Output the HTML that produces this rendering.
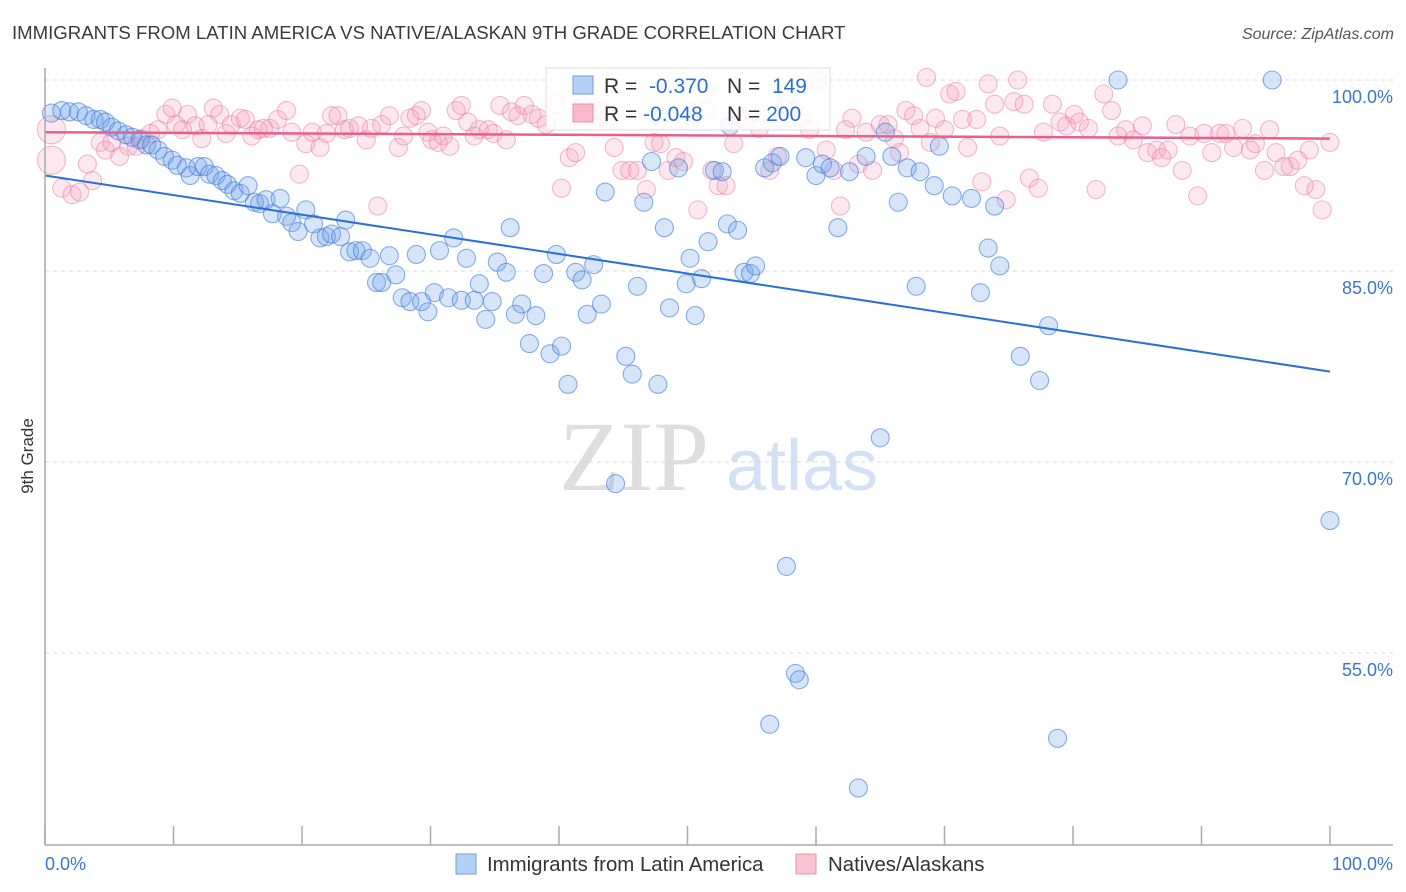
<!DOCTYPE html>
<html><head><meta charset="utf-8">
<style>
body{margin:0;background:#fff;font-family:"Liberation Sans",sans-serif;}
#wrap{position:relative;width:1406px;height:892px;overflow:hidden;}
svg text{font-family:"Liberation Sans",sans-serif;}
svg text.serif{font-family:"Liberation Serif",serif;}
</style></head>
<body>
<div id="wrap">
<svg id="chart" width="1406" height="892" viewBox="0 0 1406 892">
  <text x="12" y="39" font-size="18.6" fill="#3a3a3a">IMMIGRANTS FROM LATIN AMERICA VS NATIVE/ALASKAN 9TH GRADE CORRELATION CHART</text>
  <text x="1394" y="39" font-size="16" fill="#555" font-style="italic" text-anchor="end">Source: ZipAtlas.com</text>
  <text x="33" y="456" font-size="17" fill="#333" transform="rotate(-90 33 456)" text-anchor="middle">9th Grade</text>
  <g>
    <text class="serif" x="634" y="490" font-size="100" fill="#dedede" text-anchor="middle">ZIP</text>
    <text x="802" y="490" font-size="72" fill="#d3e1f5" text-anchor="middle">atlas</text>
  </g>
  <g id="grid"></g>
  <g id="pts"></g>
  <g id="lines"></g>
  <g id="axes"></g>
  <g>
    <rect x="546" y="68" width="284" height="62" fill="#fff" fill-opacity="0.85" stroke="#ddd"/>
    <rect x="573" y="76" width="20" height="18" fill="#b5d0f5" stroke="#6f9be0"/>
    <rect x="573" y="104" width="20" height="18" fill="#f8b9cc" stroke="#e890ac"/>
    <text x="604" y="93" font-size="21" fill="#333">R = <tspan fill="#2a6fd8">&#160;-0.370</tspan></text>
    <text x="727" y="93" font-size="21" fill="#333">N = <tspan fill="#2a6fd8">&#160;149</tspan></text>
    <text x="604" y="121" font-size="21" fill="#333">R = <tspan fill="#2a6fd8">-0.048</tspan></text>
    <text x="727" y="121" font-size="21" fill="#333">N = <tspan fill="#2a6fd8">200</tspan></text>
  </g>
  <g>
    <rect x="456" y="854" width="20" height="20" fill="#b5d0f5" stroke="#6f9be0"/>
    <text x="487" y="871" font-size="20.4" fill="#333">Immigrants from Latin America</text>
    <rect x="796" y="854" width="20" height="20" fill="#f8c3d2" stroke="#e890ac"/>
    <text x="828" y="871" font-size="20.4" fill="#333">Natives/Alaskans</text>
  </g>
</svg>
</div>
<script>
const yTicks=[100,85,70,55];
const yTickLabels=["100.0%","85.0%","70.0%","55.0%"];
const xTicks=[0,10,20,30,40,50,60,70,80,90,100];
const blueX=[0.5,1.3,1.9,2.6,3.2,3.8,4.3,4.7,5.2,5.7,6.3,6.8,7.4,7.9,8.3,8.8,9.3,9.9,10.3,11.0,11.3,11.9,12.4,12.8,13.3,13.8,14.2,14.7,15.2,15.8,16.3,16.7,17.2,17.7,18.3,18.8,19.2,19.7,20.3,20.9,21.4,21.9,22.3,23.0,23.4,23.7,24.2,24.7,25.3,25.8,26.2,26.8,27.3,27.8,28.4,28.9,29.3,29.8,30.3,30.7,31.4,31.8,32.4,32.8,33.4,33.8,34.3,34.8,35.2,35.9,36.2,36.6,37.1,37.7,38.2,38.8,39.3,39.8,40.2,40.7,41.3,41.8,42.2,42.7,43.3,43.6,44.4,45.2,45.7,46.1,46.6,47.2,47.7,48.2,48.6,49.3,49.9,50.2,50.6,51.1,51.6,52.1,52.7,53.1,53.3,53.9,54.4,54.9,55.3,56.0,56.4,56.6,57.2,57.7,58.4,58.7,59.2,60.0,60.5,61.1,61.7,62.6,63.3,63.9,65.0,65.4,65.9,66.4,67.1,67.8,68.1,69.2,69.6,70.6,72.1,72.8,73.4,73.9,74.3,75.9,77.4,78.1,78.8,83.5,95.5,100];
const blueY=[97.4,97.6,97.5,97.5,97.2,96.9,96.9,96.7,96.3,96.0,95.7,95.5,95.3,94.9,94.9,94.5,94.0,93.7,93.3,93.1,92.5,93.2,93.2,92.6,92.5,92.1,91.8,91.3,91.1,91.7,90.4,90.3,90.6,89.5,90.7,89.3,88.8,88.1,89.8,88.7,87.6,87.7,87.9,87.7,89.0,86.5,86.6,86.6,86.0,84.1,84.1,86.2,84.7,82.9,82.6,86.3,82.6,81.8,83.3,86.6,82.9,87.6,82.7,86.0,82.7,84.0,81.2,82.6,85.7,84.9,88.4,81.6,82.4,79.3,81.5,84.8,78.5,86.3,79.1,76.1,84.9,84.3,81.6,85.5,82.4,91.2,68.3,78.3,76.9,83.8,90.4,93.6,76.1,88.4,82.1,93.1,84.0,86.0,81.5,84.4,87.3,92.9,92.8,88.7,96.4,88.2,84.9,84.8,85.4,93.1,49.4,93.5,94.0,61.8,53.4,52.9,93.9,92.5,93.4,93.1,88.4,92.8,44.4,94.0,71.9,95.9,94.0,90.4,93.1,83.8,92.8,91.7,94.8,90.9,90.7,83.3,86.8,90.1,85.4,78.3,76.4,80.7,48.3,100,100,65.4];
const pinkX=[0.5,0.5,1.3,2.1,2.7,3.3,3.7,4.3,4.7,5.2,5.8,6.5,7.1,7.5,8.2,8.8,9.4,9.9,10.2,10.7,11.1,11.7,12.2,12.7,13.1,13.6,14.1,14.5,15.2,15.6,16.1,16.6,17.0,17.5,18.1,18.8,19.2,19.8,20.3,20.8,21.4,21.9,22.3,22.8,23.3,23.7,24.4,25.0,25.4,25.9,26.2,26.8,27.5,27.9,28.4,28.9,29.3,29.8,30.1,30.6,31.0,31.5,32.0,32.4,32.9,33.4,33.8,34.5,34.9,35.4,35.9,36.3,36.8,37.3,37.9,38.4,39.0,39.8,40.2,40.8,41.3,41.9,42.6,43.2,43.7,44.3,44.9,45.5,46.1,46.8,47.4,47.9,48.5,49.1,49.7,50.3,50.8,51.4,51.9,52.4,53.0,53.6,54.2,55.0,55.6,56.4,57.0,57.7,58.3,58.9,59.5,60.1,60.8,61.4,61.9,62.3,62.8,63.3,63.9,64.4,65.0,65.6,66.1,66.5,67.0,67.6,68.1,68.6,68.9,69.3,70.0,70.4,70.9,71.4,71.8,72.5,72.9,73.4,73.9,74.3,74.8,75.4,75.7,76.2,76.6,77.3,77.7,78.4,79.0,79.5,80.1,80.5,81.2,81.8,82.4,83.0,83.5,84.1,84.7,85.4,85.8,86.5,86.9,87.4,88.0,88.5,89.1,89.7,90.2,90.8,91.4,91.9,92.5,93.2,93.8,94.2,94.9,95.3,95.8,96.4,96.9,97.5,98.0,98.4,98.9,99.4,100];
const pinkY=[93.7,96.1,91.5,91.0,91.2,93.4,92.1,95.1,94.5,95.1,94.0,94.8,94.8,95.4,95.8,96.1,97.3,97.8,96.5,96.1,97.3,96.4,95.4,96.5,97.8,97.3,95.8,96.5,97.0,96.9,95.6,96.1,96.2,96.2,96.9,97.6,95.9,92.6,95.0,95.9,94.7,95.8,97.2,97.2,96.1,96.2,96.4,95.3,96.2,90.1,96.5,97.2,94.7,95.6,97.0,97.2,97.6,95.9,95.3,95.1,95.6,94.8,97.6,98.0,96.7,95.6,96.1,96.1,95.8,98.0,95.3,97.5,97.2,98.0,97.3,97.0,96.5,98.1,91.5,93.9,94.3,98.0,97.6,97.6,96.9,94.7,92.9,92.9,92.9,91.4,95.1,95.0,92.9,93.9,93.6,97.5,89.8,97.6,92.9,91.7,91.7,95.0,97.0,97.5,96.2,92.9,94.0,98.1,97.6,97.0,96.1,100,94.5,92.9,90.1,96.1,97.0,93.4,95.9,92.9,96.5,96.5,95.4,94.3,97.6,97.2,96.2,100.2,95.1,97.0,96.1,98.9,99.1,96.9,94.7,96.9,92.0,99.7,98.1,95.6,90.6,98.3,100,98.1,92.3,91.5,95.9,98.1,96.7,96.4,97.3,96.7,96.2,91.4,98.9,97.6,95.6,96.1,95.3,96.4,94.3,94.5,93.9,94.5,96.5,92.9,95.6,90.9,95.8,94.3,95.8,95.8,94.7,96.2,94.5,95.0,92.9,96.1,94.3,93.2,93.2,93.7,91.7,94.5,91.4,89.8,95.1];
const pinkBig=[0,1];
const blueTrend=[92.5,77.1];
const pinkTrend=[95.9,95.4];

const NS="http://www.w3.org/2000/svg";
const X0=45,X1=1330,Y100=80,PX15=191;
function sx(v){return X0+(v/100)*(X1-X0);}
function sy(v){return Y100+(100-v)/15*PX15;}
function mk(tag,attrs,parent){const e=document.createElementNS(NS,tag);for(const k in attrs)e.setAttribute(k,attrs[k]);parent.appendChild(e);return e;}
const grid=document.getElementById('grid'),pts=document.getElementById('pts'),lines=document.getElementById('lines'),axes=document.getElementById('axes');
yTicks.forEach((t,i)=>{
  const l=mk('line',{x1:X0,x2:1393,y1:sy(t),y2:sy(t),stroke:'#d8d8d8','stroke-dasharray':'4,4'},grid);
  
  
  const tx=mk('text',{x:1393,y:sy(t)+23,'font-size':18,fill:'#3a75d0','text-anchor':'end'},axes);
  tx.textContent=yTickLabels[i];
  
  
});
pinkX.forEach((x,i)=>{
  const big=pinkBig.includes(i);
  const c=mk('circle',{cx:sx(x),cy:sy(pinkY[i]),r:big?14:9,fill:'rgba(245,150,180,0.22)',stroke:'rgba(232,120,155,0.5)','stroke-width':1.1},pts);
  
  
});
blueX.forEach((x,i)=>{
  const c=mk('circle',{cx:sx(x),cy:sy(blueY[i]),r:9,fill:'rgba(110,160,235,0.28)',stroke:'rgba(60,120,220,0.6)','stroke-width':1.1},pts);
  
  
});
const bl=mk('line',{x1:sx(0),y1:sy(blueTrend[0]),x2:sx(100),y2:sy(blueTrend[1]),stroke:'#2a6fd8','stroke-width':2},lines);


const pl=mk('line',{x1:sx(0),y1:sy(pinkTrend[0]),x2:sx(100),y2:sy(pinkTrend[1]),stroke:'#e8608a','stroke-width':2.5},lines);


const ya=mk('line',{x1:X0,x2:X0,y1:68,y2:845,stroke:'#aaa','stroke-width':1.5},axes);


const xa=mk('line',{x1:X0,x2:1393,y1:845,y2:845,stroke:'#aaa','stroke-width':1.5},axes);


xTicks.forEach(t=>{
  const l=mk('line',{x1:sx(t),x2:sx(t),y1:826,y2:845,stroke:'#aaa','stroke-width':1.5},axes);
  
  
});
const xl0=mk('text',{x:45,y:870,'font-size':18,fill:'#3a75d0'},axes);
xl0.textContent='0.0%';


const xl1=mk('text',{x:1393,y:870,'font-size':18,fill:'#3a75d0','text-anchor':'end'},axes);
xl1.textContent='100.0%';


</script>
</body></html>
